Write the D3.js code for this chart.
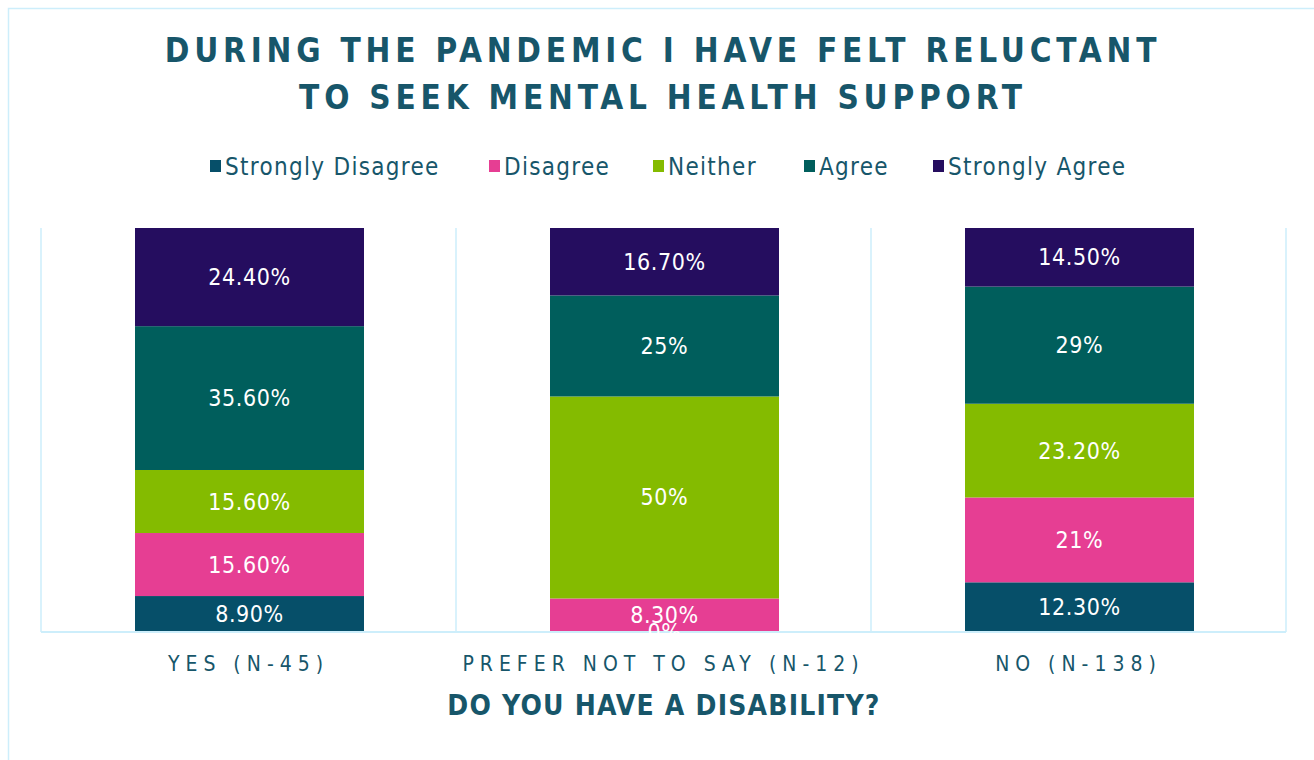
<!DOCTYPE html>
<html><head><meta charset="utf-8">
<script src="https://cdn.jsdelivr.net/npm/d3@7"></script>
<style>
body{margin:0;background:#fff;}
svg{display:block;}
</style></head>
<body>
<svg id="chart" width="1314" height="760"></svg>
<script>
const titleLines = ["DURING THE PANDEMIC I HAVE FELT RELUCTANT", "TO SEEK MENTAL HEALTH SUPPORT"];
const axisTitle = "DO YOU HAVE A DISABILITY?";
const categories = ["YES (N-45)", "PREFER NOT TO SAY (N-12)", "NO (N-138)"];
const seriesNames = ["Strongly Disagree", "Disagree", "Neither", "Agree", "Strongly Agree"];
const seriesColors = ["#064f69", "#e63e93", "#84bb00", "#005e5c", "#250d5f"];
const stronglyDisagree = [8.9, 0, 12.3];
const disagree = [15.6, 8.3, 21];
const neither = [15.6, 50, 23.2];
const agree = [35.6, 25, 29];
const stronglyAgree = [24.4, 16.7, 14.5];
const valueLabels = [
  ["8.90%", "0%", "12.30%"],
  ["15.60%", "8.30%", "21%"],
  ["15.60%", "50%", "23.20%"],
  ["35.60%", "25%", "29%"],
  ["24.40%", "16.70%", "14.50%"]
];
const seriesValues = [stronglyDisagree, disagree, neither, agree, stronglyAgree];

const svg = d3.select("#chart");
const textColor = "#17566a";
const narrow = "'Liberation Sans Narrow', 'DejaVu Sans Condensed', 'Roboto Condensed', sans-serif";
const lineColor = "#cdeefb";

// outer border
svg.append("rect").attr("x", 8.5).attr("y", 8.5).attr("width", 1400).attr("height", 800)
  .attr("fill", "none").attr("stroke", lineColor).attr("stroke-width", 1.5);

// title
svg.append("g").selectAll("text").data(titleLines).join("text")
  .attr("x", 663).attr("y", (d, i) => 62 + i * 47)
  .attr("text-anchor", "middle")
  .attr("font-family", narrow).attr("font-weight", "bold").attr("font-size", 33)
  .attr("letter-spacing", 4.8).attr("fill", textColor).text(d => d);

// legend
const legendX = [210, 489, 653, 804, 933];
const lg = svg.append("g");
seriesNames.forEach((n, i) => {
  lg.append("rect").attr("x", legendX[i]).attr("y", 160).attr("width", 11).attr("height", 12).attr("fill", seriesColors[i]);
  lg.append("text").attr("x", legendX[i] + 15).attr("y", 175).attr("font-family", narrow)
    .attr("font-size", 24).attr("letter-spacing", 1.3).attr("fill", textColor).text(n);
});

// scales
const x = d3.scaleBand().domain(categories).range([41, 1286]).paddingInner(0).paddingOuter(0);
const y = d3.scaleLinear().domain([0, 100]).range([632, 228]);
const barW = 229;

// gridlines
const gx = [41, ...categories.map(c => x(c) + x.bandwidth())];
svg.append("g").selectAll("line").data(gx).join("line")
  .attr("x1", d => d).attr("x2", d => d).attr("y1", 228).attr("y2", 632)
  .attr("stroke", lineColor).attr("stroke-width", 1.5);

// stack
const rows = categories.map((c, ci) => {
  const o = {cat: c};
  seriesNames.forEach((s, si) => o[s] = seriesValues[si][ci]);
  return o;
});
const stack = d3.stack().keys(seriesNames)(rows);

const bars = svg.append("g");
stack.forEach((layer, si) => {
  bars.append("g").attr("fill", seriesColors[si]).selectAll("rect").data(layer).join("rect")
    .attr("x", d => x(d.data.cat) + (x.bandwidth() - barW) / 2 + 1)
    .attr("width", barW)
    .attr("y", d => y(Math.min(d[1], 100)))
    .attr("height", d => Math.max(0, y(d[0]) - y(Math.min(d[1], 100))));
});

// axis line
svg.append("line").attr("x1", 41).attr("x2", 1286).attr("y1", 632).attr("y2", 632)
  .attr("stroke", lineColor).attr("stroke-width", 2);

// value labels
const lbl = svg.append("g");
stack.forEach((layer, si) => {
  layer.forEach((d, ci) => {
    const mid = (y(d[0]) + y(Math.min(d[1], 100))) / 2;
    lbl.append("text").attr("x", x(d.data.cat) + x.bandwidth() / 2 + 1)
      .attr("y", mid + 8).attr("text-anchor", "middle")
      .attr("font-family", narrow).attr("font-size", 23).attr("letter-spacing", 0.6).attr("fill", "#ffffff")
      .text(valueLabels[si][ci]);
  });
});

// x axis labels
const xAxis = d3.axisBottom(x).tickSize(0).tickPadding(0);
const ax = svg.append("g").attr("transform", "translate(0,632)").call(xAxis);
ax.select(".domain").remove();
ax.selectAll("text").attr("y", 39).attr("dy", 0)
  .attr("font-family", narrow).attr("font-size", 21).attr("letter-spacing", 6)
  .attr("fill", textColor);

// axis title
svg.append("text").attr("x", 664).attr("y", 715).attr("text-anchor", "middle")
  .attr("font-family", narrow).attr("font-weight", "bold").attr("font-size", 28).attr("letter-spacing", 1.2)
  .attr("fill", textColor).text(axisTitle);
</script>
</body></html>
